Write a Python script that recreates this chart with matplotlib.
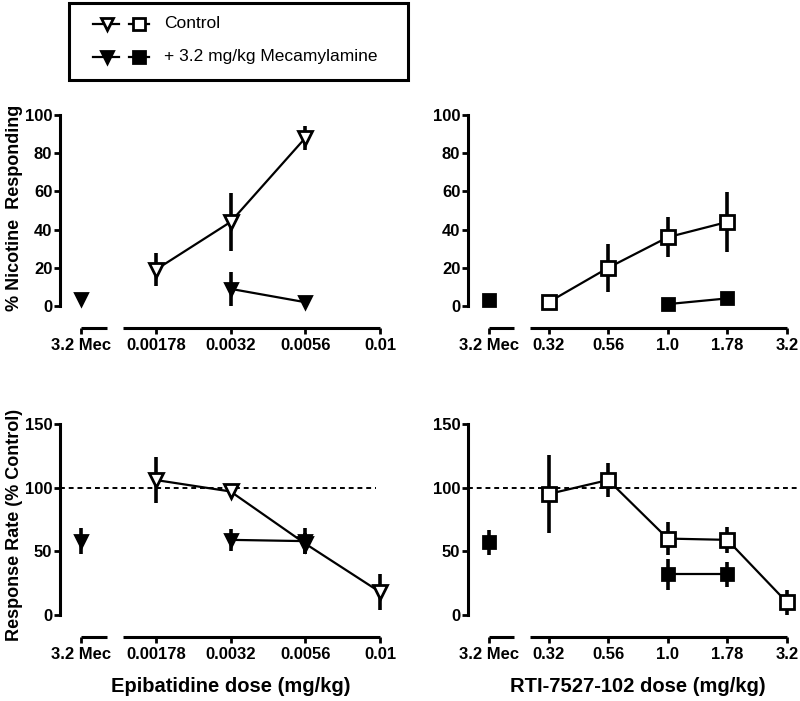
import numpy as np
import matplotlib
matplotlib.use('Agg')
import matplotlib.pyplot as plt
from matplotlib.patches import Rectangle

plt.rcParams['font.family'] = ['Liberation Sans', 'DejaVu Sans']

# tick labels (position 0 = 3.2 mg/kg mecamylamine alone)
epi_labels = ['3.2 Mec', '0.00178', '0.0032', '0.0056', '0.01']
rti_labels = ['3.2 Mec', '0.32', '0.56', '1.0', '1.78', '3.2']

# epibatidine - % nicotine responding
epi_nic_ctrl_x = [1, 2, 3]
epi_nic_ctrl = [19, 44, 88]
epi_nic_ctrl_err = [8.5, 15, 6.5]
epi_nic_mec_x = [2, 3]
epi_nic_mec = [9, 2]
epi_nic_mec_err = [9, 0]
epi_nic_mec_alone = [3.5]
epi_nic_mec_alone_err = [0]

# epibatidine - response rate
epi_rate_ctrl_x = [1, 2, 3, 4]
epi_rate_ctrl = [106, 97, 56, 18]
epi_rate_ctrl_err = [18, 3, 8, 14]
epi_rate_mec_x = [2, 3]
epi_rate_mec = [59, 58]
epi_rate_mec_err = [8.5, 10]
epi_rate_mec_alone = [58]
epi_rate_mec_alone_err = [10]

# RTI-7527-102 - % nicotine responding
rti_nic_ctrl_x = [1, 2, 3, 4]
rti_nic_ctrl = [2, 20, 36, 44]
rti_nic_ctrl_err = [0, 12.5, 10.5, 15.5]
rti_nic_mec_x = [3, 4]
rti_nic_mec = [1, 4]
rti_nic_mec_err = [0, 0]
rti_nic_mec_alone = [3]
rti_nic_mec_alone_err = [0]

# RTI-7527-102 - response rate
rti_rate_ctrl_x = [1, 2, 3, 4, 5]
rti_rate_ctrl = [95, 106, 60, 59, 10]
rti_rate_ctrl_err = [31, 13.5, 13, 10, 10]
rti_rate_mec_x = [3, 4]
rti_rate_mec = [32, 32]
rti_rate_mec_err = [12, 10]
rti_rate_mec_alone = [57]
rti_rate_mec_alone_err = [10]

W, H = 800, 701
fig = plt.figure(figsize=(W / 100, H / 100), dpi=100)


def add_axes_px(left, top, width, height):
    return fig.add_axes([left / W, 1 - (top + height) / H, width / W, height / H])


def setup(ax, labels, xlim, ylim, yticks, mec_seg, main_seg):
    ax.set_xlim(*xlim)
    ax.set_ylim(*ylim)
    for s in ['top', 'right', 'bottom']:
        ax.spines[s].set_visible(False)
    ax.spines['left'].set_linewidth(2.2)
    ax.spines['left'].set_bounds(yticks[0], yticks[-1])
    ax.set_yticks(yticks)
    ax.set_yticklabels([str(t) for t in yticks], fontsize=12, fontweight='bold')
    ax.tick_params(axis='y', length=4.5, width=2, pad=1)
    ax.set_xticks(range(len(labels)))
    ax.set_xticklabels(labels, fontsize=12, fontweight='bold')
    ax.tick_params(axis='x', length=4.5, width=2, pad=3)
    yb = ylim[0]
    ax.plot(mec_seg, [yb, yb], color='k', lw=2.2, clip_on=False, solid_capstyle='butt')
    ax.plot(main_seg, [yb, yb], color='k', lw=2.2, clip_on=False, solid_capstyle='butt')


def series(ax, x, y, err, marker, filled, ms, line=True):
    ax.errorbar(x, y, yerr=err, fmt=marker, linestyle='-' if line else 'none',
                color='k', lw=1.6, elinewidth=2.6, capsize=0,
                ms=ms, mew=2, mec='k', mfc='k' if filled else 'white',
                clip_on=False, zorder=3)


epi_xlim = (-0.281, 4.2)
rti_xlim = (-0.352, 5.17)

# top-left
ax1 = add_axes_px(60, 115, 335, 213)
setup(ax1, epi_labels, epi_xlim, (-11.5, 100), [0, 20, 40, 60, 80, 100], [0, 0.35], [0.56, 4])
series(ax1, epi_nic_ctrl_x, epi_nic_ctrl, epi_nic_ctrl_err, 'v', False, 10.5)
series(ax1, epi_nic_mec_x, epi_nic_mec, epi_nic_mec_err, 'v', True, 9)
series(ax1, [0], epi_nic_mec_alone, epi_nic_mec_alone_err, 'v', True, 9, line=False)

# top-right
ax2 = add_axes_px(468, 115, 329, 213)
setup(ax2, rti_labels, rti_xlim, (-11.5, 100), [0, 20, 40, 60, 80, 100], [0, 0.42], [0.69, 5])
series(ax2, rti_nic_ctrl_x, rti_nic_ctrl, rti_nic_ctrl_err, 's', False, 10.5)
series(ax2, rti_nic_mec_x, rti_nic_mec, rti_nic_mec_err, 's', True, 9)
series(ax2, [0], rti_nic_mec_alone, rti_nic_mec_alone_err, 's', True, 9, line=False)

# bottom-left
ax3 = add_axes_px(60, 424, 335, 213)
setup(ax3, epi_labels, epi_xlim, (-17.3, 150), [0, 50, 100, 150], [0, 0.35], [0.56, 4])
ax3.plot([epi_xlim[0], 3.95], [100, 100], color='k', lw=1.4, ls=(0, (2.5, 2)), zorder=1)
series(ax3, epi_rate_ctrl_x, epi_rate_ctrl, epi_rate_ctrl_err, 'v', False, 10.5)
series(ax3, epi_rate_mec_x, epi_rate_mec, epi_rate_mec_err, 'v', True, 9)
series(ax3, [0], epi_rate_mec_alone, epi_rate_mec_alone_err, 'v', True, 9, line=False)

# bottom-right
ax4 = add_axes_px(468, 424, 329, 213)
setup(ax4, rti_labels, rti_xlim, (-17.3, 150), [0, 50, 100, 150], [0, 0.42], [0.69, 5])
ax4.plot([rti_xlim[0], rti_xlim[1]], [100, 100], color='k', lw=1.4, ls=(0, (2.5, 2)), zorder=1)
series(ax4, rti_rate_ctrl_x, rti_rate_ctrl, rti_rate_ctrl_err, 's', False, 10.5)
series(ax4, rti_rate_mec_x, rti_rate_mec, rti_rate_mec_err, 's', True, 9)
series(ax4, [0], rti_rate_mec_alone, rti_rate_mec_alone_err, 's', True, 9, line=False)

# axis titles
fig.text(15 / W, 1 - 208 / H, '% Nicotine  Responding', rotation=90, ha='center', va='center',
         fontsize=13, fontweight='bold')
fig.text(15 / W, 1 - 525 / H, 'Response Rate (% Control)', rotation=90, ha='center', va='center',
         fontsize=13, fontweight='bold')
fig.text(231 / W, 1 - 687 / H, 'Epibatidine dose (mg/kg)', ha='center', va='center',
         fontsize=14.5, fontweight='bold')
fig.text(638 / W, 1 - 687 / H, 'RTI-7527-102 dose (mg/kg)', ha='center', va='center',
         fontsize=14.5, fontweight='bold')

# legend drawn by hand in pixel space
lg = fig.add_axes([0, 0, 1, 1])
lg.set_xlim(0, W)
lg.set_ylim(H, 0)
lg.axis('off')
lg.add_patch(Rectangle((69, 3), 339, 77, fill=False, lw=2.2, ec='k'))
for yy, filled in [(24, False), (57, True)]:
    fc = 'k' if filled else 'white'
    lg.plot([93, 119], [yy, yy], color='k', lw=1.6)
    lg.plot([107], [yy], marker='v', ms=9, mew=2, mec='k', mfc=fc)
    lg.plot([129, 149], [yy, yy], color='k', lw=1.6)
    lg.plot([139], [yy], marker='s', ms=8.5, mew=2, mec='k', mfc=fc)
lg.text(164, 24, 'Control', fontsize=12.5, va='center', ha='left')
lg.text(164, 57, '+ 3.2 mg/kg Mecamylamine', fontsize=12.5, va='center', ha='left')

fig.savefig('out.png', dpi=100)
